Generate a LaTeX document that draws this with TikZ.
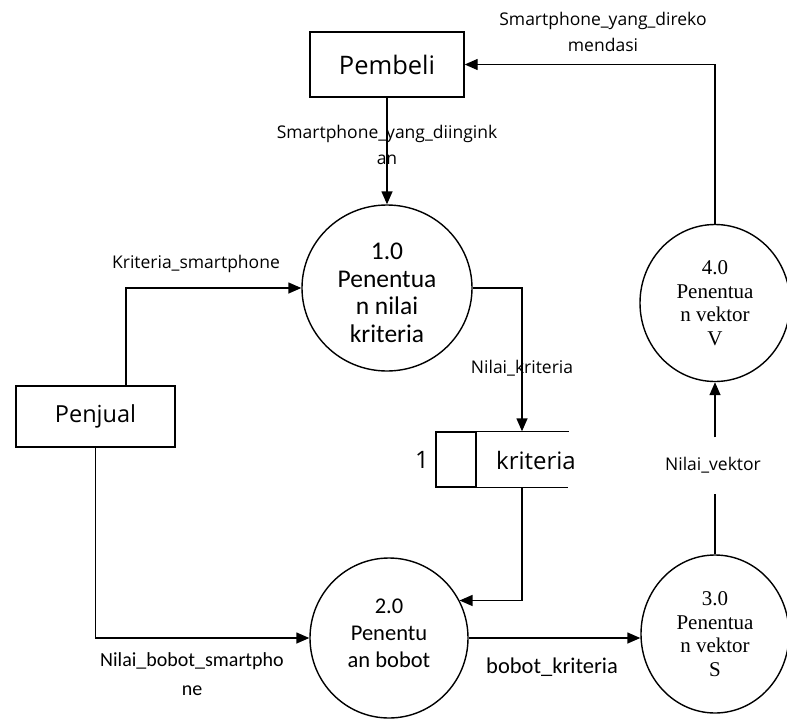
\documentclass[tikz,border=0pt]{standalone}
\usepackage{fontspec}
\setmainfont{Open Sans}
\newfontfamily\calfont{Carlito}
\newfontfamily\serfont{Liberation Serif}
\usetikzlibrary{arrows.meta,shapes.geometric}

\begin{document}
\begin{tikzpicture}[x=1pt,y=-1pt,
  line width=1.4pt,
  flow/.style={-{Triangle[length=13pt,width=11pt]}},
  entity/.style={draw, rectangle, inner sep=0pt},
  proc/.style={draw, ellipse, inner sep=0pt, align=center},
  proctext/.style={inner sep=0pt, align=center},
  procserif/.style={proc, font=\serfont\fontsize{21}{23.5}\selectfont},
  flowlab/.style={inner sep=0pt, align=center, font=\fontsize{17.5}{26}\selectfont},
  flowlabc/.style={inner sep=0pt, align=center, font=\calfont\fontsize{20}{29}\selectfont},
  storetext/.style={inner sep=0pt, font=\fontsize{24}{28}\selectfont}]
\useasboundingbox (0,0) rectangle (787,718);

% external entities
\node[entity, minimum width=154pt, minimum height=65pt, font=\fontsize{25.5}{28}\selectfont] (pembeli) at (387,64.5) {Pembeli};
\node[entity, minimum width=159pt, minimum height=61pt, font=\fontsize{23.5}{28}\selectfont] (penjual) at (95.5,416.5) {Penjual};

% processes
\node[proc, minimum width=170pt, minimum height=166pt] (p1) at (387,288) {};
\node[proctext, font=\calfont\fontsize{25.5}{27.5}\selectfont] (p1text) at (387,293)
  {1.0\\Penentua\\n nilai\\kriteria};
\node[proc, minimum width=158pt, minimum height=160pt] (p2) at (389,638) {};
\node[proctext, font=\calfont\fontsize{22.5}{27}\selectfont] (p2text) at (389,633)
  {2.0\\Penentu\\an bobot};
\node[procserif, minimum width=148pt, minimum height=158pt] (p3) at (715,634)
  {3.0\\Penentua\\n vektor\\S};
\node[procserif, minimum width=150pt, minimum height=157pt] (p4) at (715,303)
  {4.0\\Penentua\\n vektor\\V};

% data store
\node[draw, rectangle, inner sep=0pt, minimum width=40pt, minimum height=55pt] (storeid) at (456,459.5) {};
\node[inner sep=0pt, minimum width=92pt, minimum height=55pt] (storebody) at (522,459.5) {};
\draw (storeid.north east) -- (storebody.north east);
\draw (storeid.south east) -- ([xshift=-1pt]storebody.south east);
\node[storetext] (storenum) at (422,460) {1};
\node[storetext] (storename) at (536,460) {kriteria};

% data flows
\draw[flow] (pembeli.south) -- (p1.north);
\draw[flow] (p4.north) |- (pembeli.east);
\draw[flow] ([xshift=30.5pt]penjual.north) |- (p1.west);
\draw[flow] (p1.east) -| (storebody.north);
\draw[flow] (storebody.south) |- (p2.28);
\draw[flow] (penjual.south) |- (p2.west);
\draw[flow] (p2.east) -- (p3.west |- p2.east);
\node[flowlab, minimum height=55pt] (vlab) at (713,465.5) {Nilai\_vektor};
\draw (p3.north) -- (vlab.south -| p3.north);
\draw[flow] (vlab.north -| p4.south) -- (p4.south);

% flow labels
\node[flowlab] (lrek) at (603,32) {Smartphone\_yang\_direko\\mendasi};
\node[flowlab] (ling) at (387,145) {Smartphone\_yang\_diingink\\an};
\node[flowlab] (lkrit) at (196,264) {Kriteria\_smartphone};
\node[flowlab] (lnk) at (522,368) {Nilai\_kriteria};
\node[flowlabc] (lbob) at (192,674.5) {Nilai\_bobot\_smartpho\\ne};
\node[flowlabc, font=\calfont\fontsize{22.5}{29}\selectfont] (lbk) at (552,667) {bobot\_kriteria};
\end{tikzpicture}
\end{document}
